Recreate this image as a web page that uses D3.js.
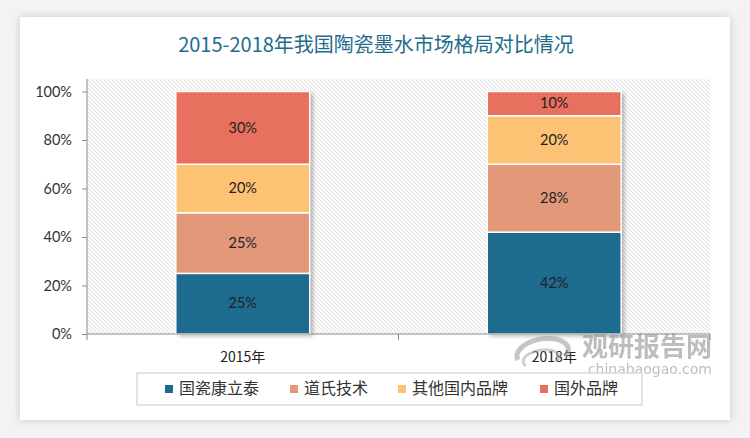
<!DOCTYPE html>
<html><head><meta charset="utf-8">
<script src="https://cdn.jsdelivr.net/npm/d3@7/dist/d3.min.js"></script>
<style>
html,body{margin:0;padding:0;background:#f3f3f3;}
svg{display:block;}
</style></head>
<body>
<svg id="chart" width="750" height="438"></svg>
<script>
const categories = ["2015年", "2018年"];
const seriesNames = ["国瓷康立泰", "道氏技术", "其他国内品牌", "国外品牌"];
const s1 = [25, 42];
const s2 = [25, 28];
const s3 = [20, 20];
const s4 = [30, 10];
const yTicks = [0, 20, 40, 60, 80, 100];
const colors = ["#1d6b8f", "#e4987a", "#fec275", "#e8705f"];
const title = "2015-2018年我国陶瓷墨水市场格局对比情况";

const svg = d3.select("#chart");
const defs = svg.append("defs");
const sh = defs.append("filter").attr("id","cardShadow").attr("x","-5%").attr("y","-5%").attr("width","110%").attr("height","110%");
sh.append("feDropShadow").attr("dx",0).attr("dy",0).attr("stdDeviation",4).attr("flood-color","#000").attr("flood-opacity",0.18);
const bsh = defs.append("filter").attr("id","barShadow").attr("x","-10%").attr("y","-10%").attr("width","130%").attr("height","130%");
bsh.append("feDropShadow").attr("dx",3).attr("dy",2).attr("stdDeviation",2).attr("flood-color","#000").attr("flood-opacity",0.3);
const pat = defs.append("pattern").attr("id","hatch").attr("patternUnits","userSpaceOnUse").attr("width",4).attr("height",4);
pat.append("rect").attr("width",4).attr("height",4).attr("fill","#fcfcfc");
pat.append("path").attr("d","M-1,-1 L5,5 M-1,3 L1,5 M3,-1 L5,1").attr("stroke","#dcdcdc").attr("stroke-width",0.9);

// card
svg.append("rect").attr("x",20).attr("y",17).attr("width",710).attr("height",403)
  .attr("fill","#fff").attr("filter","url(#cardShadow)");

svg.append("text").attr("x",376).attr("y",47).attr("text-anchor","middle").attr("dominant-baseline","middle")
  .attr("font-family","'Noto Sans CJK SC'").attr("font-size",20).attr("fill","#1f6c8c").text(title);

const x0 = 87, x1 = 710, yTop = 79, yBot = 334;
const x = d3.scaleBand().domain(categories).range([x0, x1]).paddingInner(0.57).paddingOuter(0.285);
const y = d3.scaleLinear().domain([0, 100]).range([yBot, 91.5]);

svg.append("rect").attr("x",x0).attr("y",yTop).attr("width",x1-x0).attr("height",yBot-yTop).attr("fill","url(#hatch)");

const rows = categories.map((c,i)=>({cat:c, v:[s1[i],s2[i],s3[i],s4[i]]}));
const stack = d3.stack().keys([0,1,2,3]).value((d,k)=>d.v[k]);
const stacked = stack(rows);

const barG = svg.append("g");
categories.forEach((c,i)=>{
  barG.append("rect").attr("x",x(c)).attr("y",y(100)).attr("width",x.bandwidth()).attr("height",y(0)-y(100))
    .attr("fill","#fff").attr("filter","url(#barShadow)");
});
stacked.forEach((layer,k)=>{
  barG.selectAll(null).data(layer).enter().append("rect")
    .attr("x",d=>x(d.data.cat)).attr("y",d=>y(d[1])).attr("width",x.bandwidth()).attr("height",d=>y(d[0])-y(d[1]))
    .attr("fill",colors[k]).attr("stroke","#fff").attr("stroke-width",1.5);
  barG.selectAll(null).data(layer).enter().append("text")
    .attr("x",d=>x(d.data.cat)+x.bandwidth()/2).attr("y",d=>(y(d[0])+y(d[1]))/2+1)
    .attr("text-anchor","middle").attr("dominant-baseline","middle")
    .attr("font-family","Lato, 'Open Sans', sans-serif").attr("font-size",14.5).attr("fill","#222")
    .text(d=>(d[1]-d[0])+"%");
});

// y axis
const yAxis = svg.append("g").attr("transform",`translate(${x0},0)`)
  .call(d3.axisLeft(y).tickValues(yTicks).tickFormat(d=>d+"%").tickSize(5).tickPadding(10));
yAxis.select(".domain").attr("d",`M0,${yTop}V${yBot}`).attr("stroke","#8a8a8a");
yAxis.selectAll(".tick line").attr("stroke","#8a8a8a");
yAxis.selectAll("text").attr("font-family","Lato, 'Open Sans', sans-serif").attr("font-size",14.5).attr("fill","#333");

// x axis
const xa = svg.append("g").attr("transform",`translate(0,${yBot})`);
xa.append("line").attr("x1",x0).attr("x2",x1).attr("stroke","#8a8a8a");
const bounds = [x0, (x0+x1)/2, x1];
xa.selectAll(null).data(bounds).enter().append("line").attr("x1",d=>d).attr("x2",d=>d).attr("y1",0).attr("y2",6).attr("stroke","#8a8a8a");
xa.selectAll(null).data(categories).enter().append("text")
  .attr("x",d=>x(d)+x.bandwidth()/2).attr("y",24).attr("text-anchor","middle").attr("dominant-baseline","middle")
  .attr("font-family","'Noto Sans CJK SC'").attr("font-size",14).attr("fill","#222").text(d=>d);

// watermark
const wm = svg.append("g").attr("opacity",0.55);
wm.append("path").attr("d","M518,360 A26,14 -10 1 1 566,356").attr("fill","none").attr("stroke","#999").attr("stroke-width",5);
wm.append("path").attr("d","M526,366 A18,9 -10 1 1 556,362").attr("fill","none").attr("stroke","#aaa").attr("stroke-width",3);
wm.append("text").attr("x",712).attr("y",349).attr("text-anchor","end").attr("dominant-baseline","middle")
  .attr("font-family","'Noto Sans CJK SC'").attr("font-weight","bold").attr("font-size",26).attr("fill","#888").text("观研报告网");
wm.append("text").attr("x",712).attr("y",370).attr("text-anchor","end").attr("dominant-baseline","middle")
  .attr("font-family","'DejaVu Sans'").attr("font-size",14).attr("fill","#888").text("chinabaogao.com");

// legend
svg.append("rect").attr("x",137).attr("y",373).attr("width",505).attr("height",32).attr("fill","#fff").attr("stroke","#d9d9d9").attr("stroke-width",1.5);
const legX = [165, 290, 398, 540];
const lg = svg.append("g");
seriesNames.forEach((n,i)=>{
  lg.append("rect").attr("x",legX[i]).attr("y",385).attr("width",8).attr("height",8).attr("fill",colors[i]);
  lg.append("text").attr("x",legX[i]+14).attr("y",390).attr("dominant-baseline","middle")
    .attr("font-family","'Noto Sans CJK SC'").attr("font-size",16).attr("fill","#333").text(n);
});
</script>
</body></html>
